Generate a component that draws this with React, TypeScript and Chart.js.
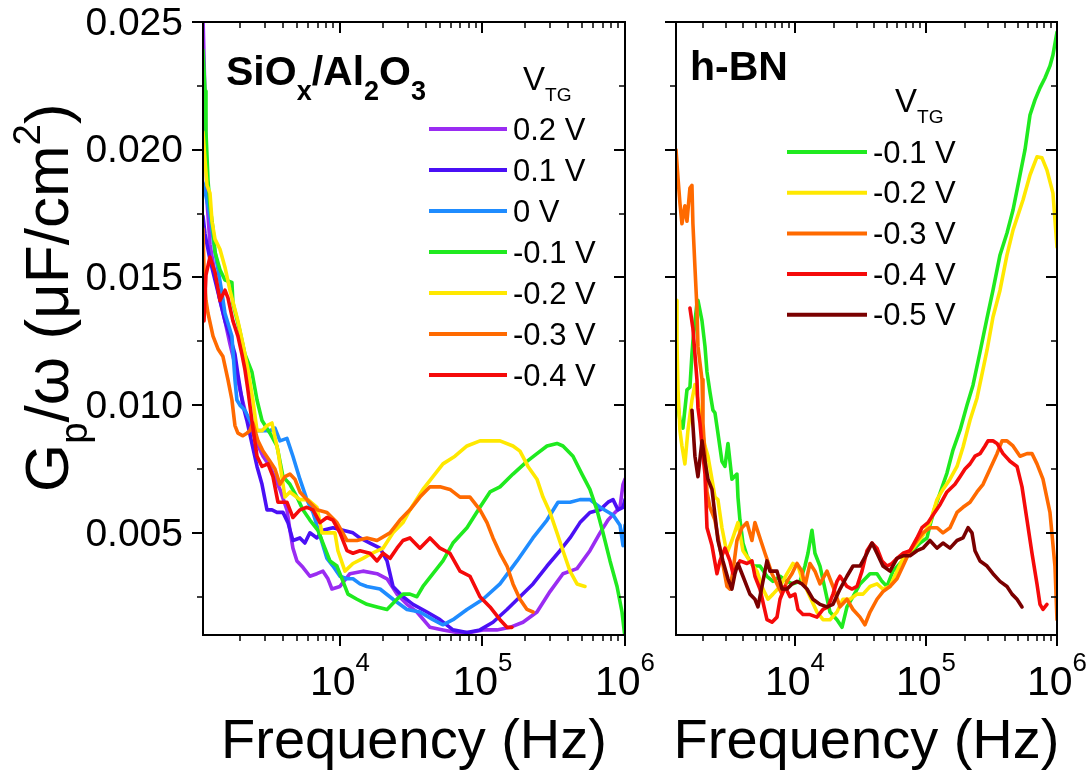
import React, { useEffect, useRef } from 'react';
import { Chart, registerables } from 'chart.js';

Chart.register(...registerables);

const W = 1091;
const H = 776;
const FONT = '"Liberation Sans", Arial, Helvetica, sans-serif';

// ---------- axis ticks ----------
const yMajorTicks = [0.005, 0.01, 0.015, 0.02, 0.025];
const yMinorTicks = [0.0025, 0.0075, 0.0125, 0.0175, 0.0225];
const yTickLabels = ['0.005', '0.010', '0.015', '0.020', '0.025'];
const xMajorTicks = [1e4, 1e5, 1e6];
const xTickBase = '10';
const xTickExponents = ['4', '5', '6'];
const xMinorTicks = [
  2e3, 3e3, 4e3, 5e3, 6e3, 7e3, 8e3, 9e3,
  2e4, 3e4, 4e4, 5e4, 6e4, 7e4, 8e4, 9e4,
  2e5, 3e5, 4e5, 5e5, 6e5, 7e5, 8e5, 9e5,
];
const yMin = 0.001;
const yMax = 0.025;
const xMax = 1e6;
const leftXMin = 1094;
const rightXMin = 1236;

// ---------- SiOx/Al2O3 panel : [frequency Hz, Gp/w uF/cm2] ----------
const sioLabels = ['0.2 V', '0.1 V', '0 V', '-0.1 V', '-0.2 V', '-0.3 V', '-0.4 V'];
const sioColors = ['#9a2cf2', '#4a10f5', '#1f8cff', '#1fea1f', '#ffe800', '#ff6a00', '#f50a0a'];

const sioP02 = [[1094,0.0252],[1130,0.0220],[1167,0.0180],[1225,0.0163],[1328,0.0151],[1439,0.0141],[1560,0.0133],[1690,0.0124],[1833,0.0116],[1986,0.0106],[2153,0.0098],[2333,0.0092],[2618,0.0085],[2884,0.0080],[3228,0.0076],[3793,0.0067],[4246,0.0059],[4457,0.0051],[4677,0.0044],[4989,0.0039],[5495,0.00365],[6152,0.0033],[6896,0.0034],[7597,0.0035],[8235,0.0032],[8785,0.0028],[10000,0.0029],[11750,0.0034],[14500,0.0035],[18200,0.0034],[21390,0.0032],[25120,0.0026],[29530,0.0022],[34690,0.0019],[42810,0.0013],[52810,0.0012],[66240,0.0011],[81700,0.0011],[100800,0.0012],[126400,0.0012],[156000,0.0013],[192400,0.0015],[241200,0.0019],[297700,0.0027],[367100,0.0034],[460500,0.0036],[567400,0.0043],[667800,0.0050],[760300,0.0055],[851500,0.0058],[922600,0.0060],[968500,0.0069],[1000000,0.0071]];
const sioP01 = [[1094,0.0174],[1130,0.0167],[1225,0.0157],[1328,0.0149],[1439,0.0141],[1560,0.0133],[1690,0.0127],[1833,0.0120],[1923,0.0112],[2084,0.0100],[2223,0.0094],[2410,0.0085],[2618,0.0076],[2838,0.0069],[3076,0.0059],[3334,0.0059],[3614,0.0058],[3981,0.0058],[4315,0.0054],[4677,0.0047],[5236,0.0048],[5675,0.0046],[6152,0.0050],[6896,0.0048],[7597,0.0051],[8927,0.0052],[10500,0.0051],[12340,0.0050],[13810,0.0048],[16240,0.0046],[19100,0.0044],[21390,0.0039],[23560,0.0029],[27680,0.0025],[32520,0.0022],[40790,0.0019],[50320,0.0016],[62070,0.0012],[77850,0.0011],[96020,0.0012],[118500,0.0015],[148600,0.0020],[183300,0.0025],[226100,0.0030],[283600,0.0037],[349800,0.0043],[411200,0.0048],[483300,0.0054],[567400,0.0058],[667800,0.0059],[760300,0.0062],[824300,0.0063],[893200,0.0059],[968500,0.0060],[1000000,0.0063]];
const sio0 = [[1094,0.0187],[1167,0.0180],[1225,0.0174],[1328,0.0160],[1486,0.0144],[1560,0.0136],[1746,0.0127],[1833,0.0110],[1892,0.0102],[1986,0.0100],[2153,0.0098],[2333,0.0094],[2535,0.0090],[2884,0.0090],[3228,0.0090],[3499,0.0091],[3793,0.0086],[4246,0.0087],[4677,0.0080],[5236,0.0071],[5861,0.0063],[6465,0.0058],[7238,0.0049],[8104,0.0040],[8927,0.0037],[10000,0.0033],[11200,0.0032],[12340,0.0032],[13810,0.0030],[15460,0.0029],[19100,0.0028],[23560,0.0024],[29530,0.0020],[36410,0.0019],[44930,0.0016],[52810,0.0014],[62070,0.0016],[77850,0.0020],[100800,0.0024],[132700,0.0030],[174700,0.0039],[226100,0.0048],[283600,0.0055],[338800,0.0062],[411200,0.0062],[483300,0.0063],[567400,0.0063],[667800,0.0060],[824300,0.0057],[922600,0.0053],[968500,0.0045],[1000000,0.0053]];
const sioM01 = [[1094,0.0239],[1130,0.0223],[1148,0.0207],[1186,0.0188],[1225,0.0178],[1286,0.0169],[1328,0.0160],[1439,0.0153],[1560,0.0149],[1746,0.0148],[1774,0.0140],[1986,0.0129],[2153,0.0120],[2410,0.0113],[2618,0.0102],[2838,0.0094],[3228,0.0089],[3614,0.0084],[3981,0.0072],[4457,0.0069],[4989,0.0064],[5495,0.0059],[6152,0.0055],[7008,0.0051],[7597,0.0046],[8505,0.0039],[9523,0.0037],[10500,0.0031],[11380,0.0026],[13160,0.0024],[15460,0.0022],[18200,0.0021],[21390,0.0020],[25120,0.0024],[27680,0.0026],[30980,0.0026],[34690,0.0025],[38210,0.0029],[44930,0.0034],[52810,0.0039],[62070,0.0046],[77850,0.0052],[96020,0.0060],[112900,0.0066],[132700,0.0068],[163700,0.0073],[205300,0.0078],[241200,0.0081],[283600,0.0084],[333300,0.0085],[367100,0.0084],[431600,0.0080],[498900,0.0073],[567400,0.0067],[635200,0.0059],[701000,0.0050],[785300,0.0039],[879400,0.0029],[952900,0.0019],[1000000,0.0009]];
const sioM02 = [[1094,0.0207],[1130,0.0196],[1167,0.0186],[1225,0.0183],[1265,0.0172],[1328,0.0165],[1439,0.0161],[1560,0.0154],[1690,0.0145],[1923,0.0133],[2084,0.0124],[2259,0.0114],[2449,0.0102],[2618,0.0090],[2838,0.0090],[3076,0.0092],[3334,0.0093],[3672,0.0082],[4111,0.0064],[4457,0.0066],[5236,0.0063],[5957,0.0063],[6896,0.0060],[7476,0.0050],[8505,0.0050],[9220,0.0050],[9677,0.0043],[10840,0.0035],[12340,0.0038],[14500,0.0040],[16770,0.0042],[20050,0.0044],[23560,0.0050],[27680,0.0054],[30980,0.0059],[38210,0.0067],[44930,0.0072],[52810,0.0077],[64120,0.0080],[77850,0.0084],[96020,0.0086],[116700,0.0086],[132700,0.0086],[163700,0.0084],[183300,0.0082],[208600,0.0076],[241200,0.0071],[265800,0.0064],[297700,0.0058],[333300,0.0050],[367100,0.0043],[411200,0.0035],[460500,0.0030],[523600,0.0029]];
const sioM03 = [[1094,0.0169],[1112,0.0153],[1148,0.0141],[1186,0.0136],[1286,0.0127],[1394,0.0122],[1510,0.0119],[1637,0.0110],[1746,0.0102],[1833,0.0092],[1923,0.0089],[2084,0.0088],[2223,0.0089],[2333,0.0090],[2449,0.0093],[2660,0.0086],[2884,0.0082],[3228,0.0078],[3499,0.0075],[3793,0.0069],[4111,0.0072],[4457,0.0073],[4831,0.0071],[5236,0.0066],[5861,0.0063],[6896,0.0059],[8104,0.0058],[9523,0.0054],[11200,0.0047],[13160,0.0047],[15460,0.0048],[18200,0.0047],[22450,0.0050],[26370,0.0055],[30980,0.0059],[36410,0.0064],[42810,0.0068],[50320,0.0068],[59140,0.0067],[69520,0.0064],[81700,0.0064],[96020,0.0059],[107600,0.0054],[118500,0.0048],[132700,0.0042],[148600,0.0037],[163700,0.0030],[183300,0.0024],[205300,0.0020],[226100,0.0019]];
const sioM04 = [[1094,0.0145],[1112,0.0133],[1148,0.0151],[1225,0.0158],[1328,0.0152],[1439,0.0141],[1560,0.0145],[1637,0.0142],[1774,0.0133],[1923,0.0127],[2051,0.0120],[2153,0.0114],[2259,0.0106],[2410,0.0094],[2618,0.0080],[2838,0.0076],[3126,0.0077],[3388,0.0072],[3672,0.0062],[4246,0.0062],[4677,0.0056],[5236,0.0059],[5861,0.0060],[6465,0.0059],[7238,0.0054],[8104,0.0056],[8927,0.0055],[10000,0.0050],[11200,0.0043],[12340,0.0042],[13810,0.0043],[16240,0.0042],[18200,0.0039],[20050,0.0042],[22450,0.0040],[25120,0.0044],[27680,0.0047],[30980,0.0048],[36410,0.0044],[42810,0.0048],[50320,0.0044],[59140,0.0042],[69520,0.0035],[81700,0.0033],[96020,0.0025],[112900,0.0021],[132700,0.0016],[148600,0.0013],[161100,0.0013]];

// ---------- h-BN panel ----------
const bnLabels = ['-0.1 V', '-0.2 V', '-0.3 V', '-0.4 V', '-0.5 V'];
const bnColors = ['#1fea1f', '#ffe800', '#ff6a00', '#f50a0a', '#7a0000'];

const bnM01 = [[1257,0.0103],[1325,0.0094],[1396,0.0091],[1499,0.0106],[1579,0.0107],[1636,0.0120],[1664,0.0125],[1786,0.0140],[1818,0.0141],[1952,0.0133],[2057,0.0123],[2131,0.0113],[2246,0.0105],[2366,0.0098],[2451,0.0097],[2583,0.0089],[2771,0.0078],[2921,0.0076],[3081,0.0085],[3304,0.0071],[3608,0.0073],[3672,0.0064],[3803,0.0055],[4009,0.0046],[4300,0.0041],[4778,0.0037],[5405,0.0037],[6114,0.0033],[6796,0.0031],[7688,0.0033],[8697,0.0031],[9655,0.0030],[10920,0.0031],[11920,0.0037],[12570,0.0042],[13480,0.0051],[14210,0.0042],[15520,0.0037],[16960,0.0028],[18510,0.0019],[20930,0.0016],[22860,0.0013],[24940,0.0021],[27740,0.0025],[31360,0.0030],[37390,0.0034],[42270,0.0034],[46150,0.0031],[50360,0.0029],[55960,0.0035],[63360,0.0038],[75500,0.0042],[90000,0.0046],[101800,0.0048],[107300,0.0053],[117100,0.0060],[127900,0.00655],[144600,0.00734],[160700,0.00824],[181900,0.00902],[205600,0.0100],[228500,0.01078],[258500,0.01208],[292300,0.01341],[324700,0.0145],[367400,0.01588],[415300,0.01674],[461600,0.01764],[522000,0.01901],[570000,0.0200],[622200,0.02136],[679200,0.02195],[741500,0.02242],[809400,0.02281],[883600,0.02328],[931300,0.02371],[1000000,0.02461]];
const bnM02 = [[1236,0.0141],[1257,0.0125],[1280,0.0106],[1325,0.0090],[1372,0.0084],[1445,0.0077],[1524,0.0090],[1636,0.0102],[1724,0.0108],[1818,0.0102],[1952,0.0090],[2057,0.0084],[2168,0.0080],[2326,0.0071],[2451,0.0064],[2583,0.0063],[2771,0.0052],[3026,0.0042],[3304,0.0047],[3672,0.0054],[4009,0.0043],[4532,0.0039],[5127,0.0035],[5698,0.0028],[6223,0.0024],[6796,0.0026],[7688,0.0029],[8697,0.0034],[9655,0.0038],[10540,0.0037],[11510,0.0031],[13020,0.0025],[14720,0.0019],[16370,0.0016],[18510,0.0016],[20930,0.0019],[23250,0.0024],[26290,0.0024],[29740,0.0026],[33070,0.0026],[37390,0.0029],[42270,0.0030],[46960,0.0028],[53100,0.0029],[60080,0.0035],[66740,0.0040],[79600,0.0044],[94800,0.0049],[107300,0.0054],[121300,0.0063],[134800,0.0067],[152500,0.0071],[172500,0.0076],[191600,0.00835],[216800,0.00941],[245100,0.01027],[292300,0.01215],[324700,0.01345],[367400,0.0145],[415300,0.01588],[461600,0.01685],[550200,0.01803],[622200,0.01901],[703500,0.01972],[767900,0.01968],[838300,0.0192],[931300,0.0183],[1000000,0.01619]];
const bnM03 = [[1236,0.0200],[1280,0.0189],[1325,0.0179],[1372,0.0171],[1445,0.0178],[1499,0.0172],[1579,0.0185],[1636,0.0186],[1664,0.0171],[1724,0.0154],[1786,0.0138],[1818,0.0123],[1952,0.0110],[1986,0.0093],[2057,0.0080],[2131,0.0066],[2246,0.0060],[2451,0.0055],[2675,0.0044],[3026,0.0029],[3190,0.0028],[3363,0.0035],[3608,0.0047],[3939,0.0052],[4300,0.0054],[4695,0.0047],[4949,0.0054],[5405,0.0048],[5903,0.0042],[6678,0.0034],[7293,0.0030],[7964,0.0026],[8697,0.0031],[9487,0.0034],[10360,0.0038],[11310,0.0035],[11920,0.0029],[13020,0.0038],[14210,0.0035],[15520,0.0030],[17560,0.0035],[19510,0.0029],[22070,0.0021],[24940,0.0024],[27740,0.0020],[31360,0.0017],[34200,0.0014],[37390,0.0019],[42270,0.0024],[46960,0.0027],[53100,0.0029],[60080,0.0032],[66740,0.0037],[75500,0.0043],[85400,0.0047],[94800,0.0050],[107300,0.0052],[121300,0.0052],[134800,0.0050],[152500,0.0052],[172500,0.0058],[191600,0.0060],[216800,0.0062],[245100,0.0066],[272600,0.0069],[308100,0.0075],[348500,0.0081],[380500,0.0086],[415300,0.0086],[461600,0.0084],[522000,0.0080],[590300,0.0081],[644400,0.0081],[703500,0.0077],[781500,0.0071],[883600,0.0058],[964600,0.0037],[1000000,0.0016]];
const bnM04 = [[1579,0.0138],[1664,0.0130],[1786,0.0110],[1818,0.0099],[1884,0.0093],[1952,0.0084],[2057,0.0073],[2131,0.0052],[2326,0.0045],[2539,0.0034],[2675,0.0039],[2921,0.0044],[3190,0.0039],[3363,0.0034],[3803,0.0039],[4300,0.0038],[4695,0.0039],[4949,0.0033],[5405,0.0028],[6114,0.0016],[6678,0.0015],[7293,0.0017],[7688,0.0024],[8396,0.0029],[9160,0.0025],[10000,0.0026],[10540,0.0020],[11510,0.0018],[13020,0.0018],[14720,0.0017],[16370,0.0020],[17870,0.0021],[19510,0.0026],[20930,0.0031],[22070,0.0033],[24940,0.0029],[27230,0.0028],[29740,0.0029],[32480,0.0035],[35460,0.0043],[38720,0.0046],[42270,0.0044],[46150,0.0039],[50360,0.0037],[54980,0.0038],[60080,0.0040],[66740,0.0042],[75500,0.0043],[85400,0.0048],[93200,0.0052],[103600,0.0054],[113100,0.0057],[127900,0.0061],[144600,0.0066],[166400,0.0069],[181900,0.0072],[198500,0.0075],[216800,0.0077],[236600,0.0080],[258500,0.0081],[282100,0.0084],[297400,0.0086],[324700,0.0086],[348500,0.0085],[387300,0.0081],[437800,0.0078],[495200,0.0076],[540700,0.0068],[590300,0.0055],[644400,0.0042],[703500,0.0030],[741500,0.0022],[781500,0.0020],[838300,0.0022]];
const bnM05 = [[1636,0.0098],[1724,0.0080],[1818,0.0072],[1952,0.0086],[2057,0.0078],[2168,0.0071],[2326,0.0067],[2451,0.0057],[2583,0.0047],[2819,0.0039],[3081,0.0032],[3304,0.0028],[3483,0.0034],[3672,0.0038],[4009,0.0033],[4532,0.0026],[4949,0.0024],[5218,0.0021],[5599,0.0029],[6114,0.0039],[6446,0.0035],[7293,0.0035],[7964,0.0028],[8697,0.0028],[9487,0.0030],[10360,0.0031],[11310,0.0030],[12350,0.0028],[13720,0.0024],[15520,0.0022],[17560,0.0021],[19510,0.0022],[22070,0.0028],[24940,0.0033],[27740,0.0037],[31360,0.0037],[35460,0.0042],[38720,0.0046],[42270,0.0042],[46960,0.0037],[53100,0.0035],[60080,0.0040],[66740,0.0041],[75500,0.0041],[85400,0.0043],[94800,0.0044],[107300,0.0047],[121300,0.0044],[134800,0.0046],[152500,0.0044],[172500,0.0047],[191600,0.0048],[209400,0.0052],[224500,0.0050],[236600,0.0043],[258500,0.0039],[292300,0.0037],[324700,0.0034],[367400,0.0031],[415300,0.0029],[453500,0.0026],[495200,0.0024],[540700,0.0021]];

// ---------- text helpers ----------
type Part = [string, number]; // 0 normal, -1 subscript, 1 superscript

function drawRich(
  ctx: CanvasRenderingContext2D,
  parts: Part[],
  x: number,
  y: number,
  size: number,
  bold: boolean,
  align: 'left' | 'center' | 'right',
  small = 0.62,
  drop = 0.33,
  rise = 0.5,
) {
  const w = bold ? 'bold ' : '';
  const sizes = parts.map((p) => (p[1] === 0 ? size : size * small));
  const widths = parts.map((p, i) => {
    ctx.font = `${w}${sizes[i]}px ${FONT}`;
    return ctx.measureText(p[0]).width;
  });
  const total = widths.reduce((a, b) => a + b, 0);
  let cx = align === 'left' ? x : align === 'center' ? x - total / 2 : x - total;
  ctx.textAlign = 'left';
  ctx.textBaseline = 'alphabetic';
  parts.forEach((p, i) => {
    ctx.font = `${w}${sizes[i]}px ${FONT}`;
    const dy = p[1] < 0 ? size * drop : p[1] > 0 ? -size * rise : 0;
    ctx.fillText(p[0], cx, y + dy);
    cx += widths[i];
  });
}

interface PanelSpec {
  series: number[][][];
  labels: string[];
  colors: string[];
  xMin: number;
  left: number;
  right: number;
  yLabels: boolean;
  title: Part[];
  titleDx: number;
  titleY: number;
  legendLineDx: number;
  legendLineLen: number;
  legendTop: number;
  legendStep: number;
  vtgDx: number;
  vtgY: number;
}

const TOP = 22;
const BOTTOM = 635;

function decoPlugin(spec: PanelSpec) {
  return {
    id: 'deco',
    afterDraw(chart: any) {
      const { ctx, chartArea: a } = chart;
      const xs = chart.scales.x;
      const ys = chart.scales.y;
      ctx.save();
      ctx.strokeStyle = '#000';
      ctx.fillStyle = '#000';
      ctx.lineCap = 'butt';
      const seg = (x1: number, y1: number, x2: number, y2: number) => {
        ctx.beginPath();
        ctx.moveTo(x1, y1);
        ctx.lineTo(x2, y2);
        ctx.stroke();
      };
      // frame
      ctx.lineWidth = 2;
      ctx.strokeRect(a.left, a.top, a.right - a.left, a.bottom - a.top);
      // y ticks
      ctx.lineWidth = 2;
      yMajorTicks.forEach((v) => {
        const p = Math.round(ys.getPixelForValue(v));
        seg(a.left - 11, p, a.left, p);
        seg(a.right - 11, p, a.right, p);
      });
      ctx.lineWidth = 1.5;
      yMinorTicks.forEach((v) => {
        const p = Math.round(ys.getPixelForValue(v));
        seg(a.left - 6, p, a.left, p);
        seg(a.right - 6, p, a.right, p);
      });
      // x ticks
      ctx.lineWidth = 2;
      xMajorTicks.forEach((v) => {
        const p = Math.round(xs.getPixelForValue(v));
        seg(p, a.bottom, p, a.bottom + 11);
        seg(p, a.top, p, a.top + 11);
      });
      ctx.lineWidth = 1.5;
      xMinorTicks.forEach((v) => {
        if (v <= xs.min || v >= xs.max) return;
        const p = Math.round(xs.getPixelForValue(v));
        seg(p, a.bottom, p, a.bottom + 6);
        seg(p, a.top, p, a.top + 6);
      });
      // y tick labels
      if (spec.yLabels) {
        ctx.font = `39px ${FONT}`;
        ctx.textAlign = 'right';
        ctx.textBaseline = 'middle';
        yMajorTicks.forEach((v, i) => {
          const p = ys.getPixelForValue(v);
          ctx.fillText(yTickLabels[i], a.left - 20, p + 2);
        });
      }
      // x tick labels
      xMajorTicks.forEach((v, i) => {
        const p = xs.getPixelForValue(v);
        drawRich(ctx, [[xTickBase, 0], [xTickExponents[i], 1]], p, a.bottom + 60, 41, false, 'center', 0.63, 0, 0.58);
      });
      // x title
      ctx.font = `56px ${FONT}`;
      ctx.textAlign = 'center';
      ctx.textBaseline = 'alphabetic';
      ctx.fillText('Frequency (Hz)', (a.left + a.right) / 2, a.bottom + 123);
      // y title
      if (spec.yLabels) {
        ctx.save();
        ctx.translate(68, 492);
        ctx.rotate(-Math.PI / 2);
        drawRich(ctx, [['G', 0], ['p', -1], ['/\u03c9 (\u03bcF/cm', 0], ['2', 1], [')', 0]], 0, 0, 62, false, 'left', 0.62, 0.3, 0.45);
        ctx.restore();
      }
      // panel title
      drawRich(ctx, spec.title, a.left + spec.titleDx, spec.titleY, 41, true, 'left', 0.66, 0.36, 0.45);
      // legend header
      drawRich(ctx, [['V', 0], ['TG', -1]], a.left + spec.vtgDx, spec.vtgY, 33, false, 'left', 0.58, 0.32, 0.45);
      // legend entries
      const ds = chart.data.datasets;
      ds.forEach((d: any, i: number) => {
        const yy = spec.legendTop + i * spec.legendStep;
        const x0 = a.left + spec.legendLineDx;
        ctx.strokeStyle = d.borderColor;
        ctx.lineWidth = 4;
        seg(x0, yy, x0 + spec.legendLineLen, yy);
        ctx.fillStyle = '#000';
        ctx.font = `31px ${FONT}`;
        ctx.textAlign = 'left';
        ctx.textBaseline = 'middle';
        ctx.fillText(d.label, x0 + spec.legendLineLen + 6, yy + 2);
      });
      ctx.restore();
    },
  };
}

function makeConfig(spec: PanelSpec): any {
  const n = spec.series.length;
  return {
    type: 'line',
    data: {
      datasets: spec.series.map((s, i) => ({
        label: spec.labels[i],
        data: s.map(([x, y]) => ({ x, y })),
        borderColor: spec.colors[i],
        borderWidth: 3.6,
        pointRadius: 0,
        tension: 0,
        fill: false,
        borderJoinStyle: 'round',
        borderCapStyle: 'round',
        order: n - i,
      })),
    },
    options: {
      responsive: false,
      animation: false,
      events: [],
      layout: { padding: { left: spec.left, right: W - spec.right, top: TOP, bottom: H - BOTTOM } },
      plugins: { legend: { display: false }, tooltip: { enabled: false }, title: { display: false } },
      scales: {
        x: { type: 'logarithmic', min: spec.xMin, max: xMax, display: false },
        y: { type: 'linear', min: yMin, max: yMax, display: false },
      },
    },
    plugins: [decoPlugin(spec)],
  };
}

const leftSpec: PanelSpec = {
  series: [sioP02, sioP01, sio0, sioM01, sioM02, sioM03, sioM04],
  labels: sioLabels,
  colors: sioColors,
  xMin: leftXMin,
  left: 203,
  right: 625,
  yLabels: true,
  title: [['SiO', 0], ['x', -1], ['/Al', 0], ['2', -1], ['O', 0], ['3', -1]],
  titleDx: 23,
  titleY: 85,
  legendLineDx: 226,
  legendLineLen: 78,
  legendTop: 129,
  legendStep: 41,
  vtgDx: 320,
  vtgY: 90,
};

const rightSpec: PanelSpec = {
  series: [bnM01, bnM02, bnM03, bnM04, bnM05],
  labels: bnLabels,
  colors: bnColors,
  xMin: rightXMin,
  left: 676,
  right: 1057,
  yLabels: false,
  title: [['h-BN', 0]],
  titleDx: 14,
  titleY: 80,
  legendLineDx: 111,
  legendLineLen: 80,
  legendTop: 152,
  legendStep: 40.7,
  vtgDx: 219,
  vtgY: 112,
};

export default function App() {
  const leftRef = useRef<HTMLCanvasElement | null>(null);
  const rightRef = useRef<HTMLCanvasElement | null>(null);
  useEffect(() => {
    const c1 = new Chart(leftRef.current as HTMLCanvasElement, makeConfig(leftSpec));
    const c2 = new Chart(rightRef.current as HTMLCanvasElement, makeConfig(rightSpec));
    return () => {
      c1.destroy();
      c2.destroy();
    };
  }, []);
  const cs: React.CSSProperties = { position: 'absolute', left: 0, top: 0, width: W, height: H };
  return (
    <div style={{ position: 'absolute', left: 0, top: 0, width: W, height: H, background: '#ffffff', overflow: 'hidden' }}>
      <canvas ref={leftRef} width={W} height={H} style={cs} />
      <canvas ref={rightRef} width={W} height={H} style={cs} />
    </div>
  );
}
